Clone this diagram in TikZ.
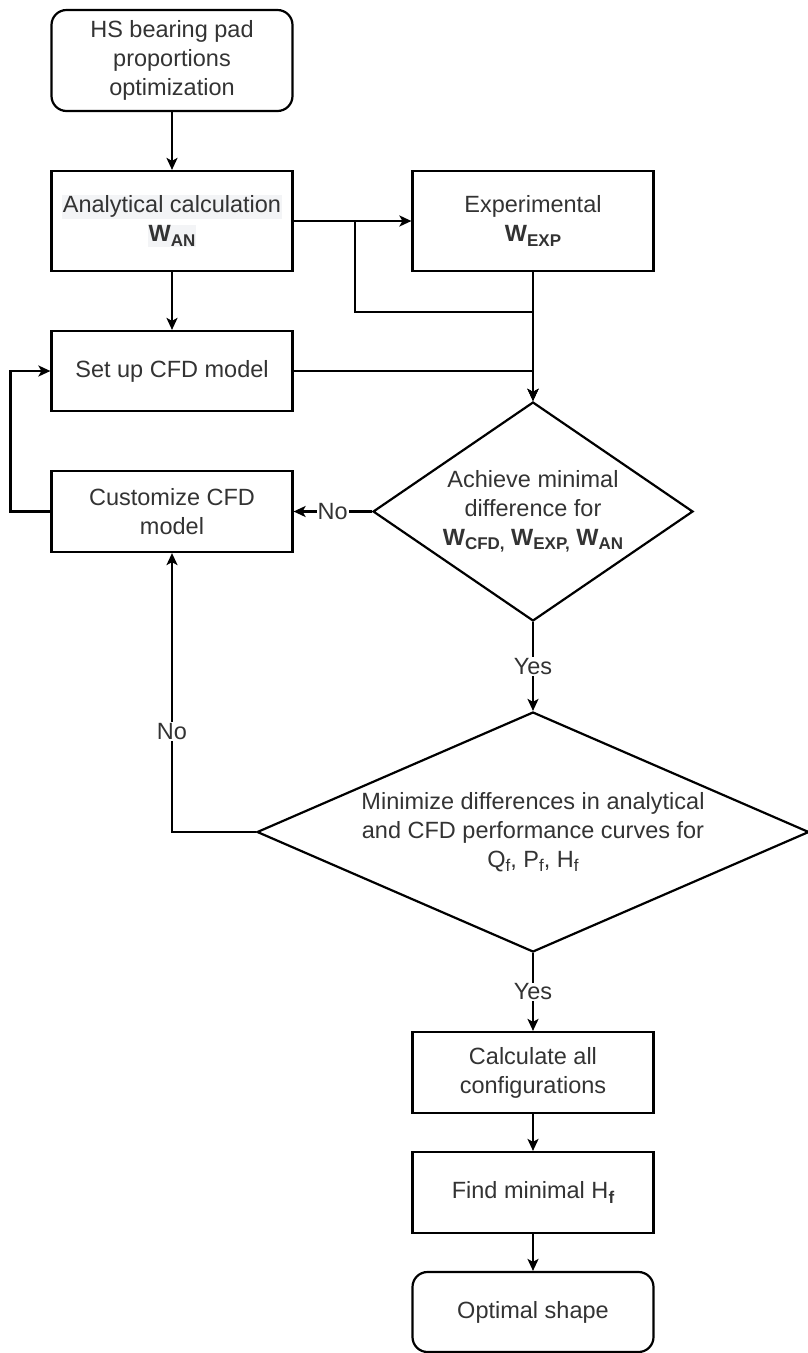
\documentclass[tikz,border=0pt]{standalone}
\usepackage{fontspec}
\setmainfont{Liberation Sans}
\usetikzlibrary{arrows.meta,positioning,shapes.geometric}
\definecolor{flowtext}{HTML}{333333}
\definecolor{labelbg}{HTML}{F3F4F6}
\setlength{\fboxsep}{1pt}
\newcommand{\lowsub}[1]{\raisebox{-0.35ex}{\fontsize{17}{17}\selectfont #1}}
\newcommand{\wsub}[1]{\textbf{W\lowsub{#1}}}

\begin{document}
\begin{tikzpicture}[x=1pt,y=-1pt,>={Stealth[length=12pt,width=11pt,inset=3pt]},
  font=\fontsize{23.5}{29}\selectfont,
  every node/.style={text=flowtext},
  proc/.style={draw=black,line width=2.2pt,rectangle,minimum width=241pt,align=center,inner sep=2pt},
  term/.style={proc,rounded corners=15pt},
  decision/.style={draw=black,line width=2.2pt,diamond,inner sep=0pt},
  flow/.style={line width=2.2pt,->},
  yesno/.style={fill=white,inner sep=1pt}]
\useasboundingbox (0,0) rectangle (808,1353);
\node[term,minimum height=101pt] (start) at (172,60.5) {HS bearing pad\\proportions\\optimization};
\node[proc,minimum height=100pt] (anal) at (172,221) {\colorbox{labelbg}{Analytical calculation}\\\colorbox{labelbg}{\wsub{AN}}};
\node[proc,minimum height=100pt] (exp) at (533,221) {Experimental\\\wsub{EXP}};
\node[proc,minimum height=80pt] (setup) at (172,371) {Set up CFD model};
\node[proc,minimum height=81pt] (cust) at (172,511.5) {Customize CFD\\model};
\node[decision,minimum width=320pt,minimum height=219pt,
  label={[align=center]center:Achieve minimal\\difference for\\\wsub{CFD,} \wsub{EXP,} \wsub{AN}}] (d1) at (533,511.5) {};
\node[decision,minimum width=552pt,minimum height=240pt,
  label={[align=center]center:Minimize differences in analytical\\and CFD performance curves for\\Q\lowsub{f}, P\lowsub{f}, H\lowsub{f}}] (d2) at (533,832) {};
\node[proc,minimum height=81pt] (calc) at (533,1072.5) {Calculate all\\configurations};
\node[proc,minimum height=81pt] (findh) at (533,1192.5) {Find minimal H\lowsub{\textbf{f}}};
\node[term,minimum height=80pt] (final) at (533,1312) {Optimal shape};
\coordinate (merge) at (533,312);
\draw[flow] (start) -- (anal);
\draw[flow] (anal) -- (setup);
\draw[flow] (anal) -- (exp);
\draw[flow] (anal.east) -- ++(61,0) |- (merge) -- (d1.north);
\draw[flow] (exp) -- (d1);
\draw[flow] (setup.east) -| (d1.north);
\draw[flow] (d1.west) -- node[yesno] {No} (cust.east);
\draw[flow] (cust.west) -- ++(-40,0) |- (setup.west);
\draw[flow] (d1.south) -- node[yesno] {Yes} (d2.north);
\draw[flow] (d2.west) -| node[yesno,pos=0.68] {No} (cust.south);
\draw[flow] (d2.south) -- node[yesno] {Yes} (calc.north);
\draw[flow] (calc) -- (findh);
\draw[flow] (findh) -- (final);
\end{tikzpicture}
\end{document}
